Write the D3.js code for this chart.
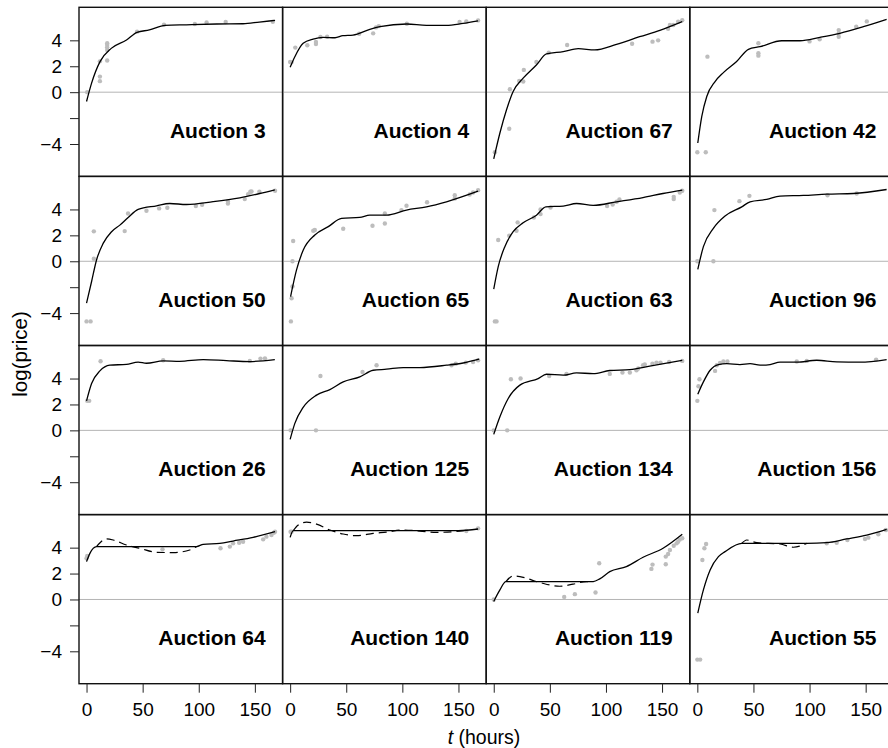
<!DOCTYPE html>
<html>
<head>
<meta charset="utf-8">
<script src="https://cdn.jsdelivr.net/npm/d3@7"></script>
<style>
  html, body { margin: 0; padding: 0; background: #fff; }
  svg { display: block; font-family: "Liberation Sans", Arial, Helvetica, sans-serif; }
</style>
</head>
<body>
<div id="chart"></div>
<script>
// Panel order (row by row)
const auctions = ["Auction 3", "Auction 4", "Auction 67", "Auction 42",
                  "Auction 50", "Auction 65", "Auction 63", "Auction 96",
                  "Auction 26", "Auction 125", "Auction 134", "Auction 156",
                  "Auction 64", "Auction 140", "Auction 119", "Auction 55"];

// Observed bids: [t (hours), log(price)]
const bids3   = [[0.6,0],[11.9,1.2],[11.9,0.85],[11.9,2.38],[18.4,3.77],[18.4,3.64],[18.4,3.46],[18.4,3.26],[18.4,2.44],[45,4.67],[69,5.2],[96.5,5.26],[107,5.38],[124,5.41],[166,5.44]];
const bids4   = [[0,2.33],[1.2,2.3],[4.6,3.44],[15.3,3.62],[23,3.72],[23,3.87],[27,4.26],[33,4.28],[61.5,4.51],[74,4.54],[76.5,5.0],[79,5.1],[104,5.28],[151,5.41],[157,5.46],[167.5,5.54]];
const bids67  = [[1,-4.64],[13.8,-2.82],[14.4,0.23],[22.7,0.87],[26.3,0.82],[26.8,1.72],[38,2.33],[49,3.05],[65.4,3.64],[123.3,3.74],[141.5,3.9],[146.5,4.0],[155.4,4.9],[157,5.18],[160,5.18],[164.3,5.44],[168,5.56]];
const bids42  = [[0,-4.64],[7.5,-4.64],[9,2.74],[54.4,3.77],[54.4,3.0],[54.4,2.82],[100,3.92],[109,4.08],[126,4.79],[126,4.54],[126,4.28],[141.6,5.05],[151,5.46]];
const bids50  = [[0,-4.64],[3.6,-4.64],[6.5,2.31],[6.5,0.2],[34,2.33],[37,3.69],[53.4,3.9],[64.7,4.08],[72,4.13],[97.4,4.26],[103,4.36],[126,4.46],[126,4.62],[141,4.8],[144,5.18],[146,5.36],[147,5.38],[154,5.36],[168,5.44]];
const bids65  = [[0.7,-4.64],[1.3,-2.85],[2.1,-1.95],[2.1,0],[2.7,1.56],[20.6,2.36],[22,2.41],[47.3,2.51],[73.4,2.74],[84.4,3.69],[84.4,2.92],[99.2,3.95],[103.7,4.28],[122,4.56],[146.7,5.1],[146.7,4.85],[160,5.15],[163,5.31],[167.5,5.49]];
const bids63  = [[1,-4.64],[2.5,-4.64],[4,1.64],[13.8,1.97],[20.3,2.36],[21.3,3.0],[35.8,3.38],[41.7,4.0],[41.7,3.64],[50.6,4.15],[101,4.26],[106,4.38],[109.5,4.59],[112,4.77],[160.4,4.97],[160.4,4.8],[165.8,5.31],[168,5.44]];
const bids96  = [[0,0],[14.3,0],[15.2,3.95],[37.5,4.64],[46.4,5.05],[116,5.1],[142,5.23]];
const bids26  = [[0.6,2.28],[2.4,2.28],[12.5,5.33],[68.3,5.41],[145.5,5.36],[155,5.54],[159,5.56]];
const bids125 = [[0.4,0],[23,0],[27,4.2],[64.5,4.51],[77,5.03],[143.8,5.03],[147.6,5.15],[156.5,5.23],[163,5.28],[167.5,5.41]];
const bids134 = [[0,0],[12,0],[15.3,3.95],[23.9,4.0],[49.4,4.2],[64.8,4.36],[103.4,4.36],[114.7,4.46],[121.3,4.46],[127.2,4.64],[128.7,4.77],[133.1,5.03],[134.6,5.08],[141.4,5.15],[145,5.23],[148.6,5.23],[156.3,5.28],[168,5.36]];
const bids156 = [[0,2.28],[1,3.41],[1.9,3.95],[15.8,4.59],[17.3,5.03],[20.2,5.2],[23.2,5.31],[26.8,5.31],[88.6,5.31],[97.5,5.36],[159.3,5.46]];
const bids64  = [[0,3.18],[0.6,3.36],[67.7,3.87],[119.4,3.95],[127.7,4.08],[130.6,4.33],[136,4.38],[139.5,4.46],[157.4,4.64],[160.3,4.85],[164.8,4.97],[166.9,5.15],[168,5.23]];
const bids140 = [[0.4,5.23],[1.3,5.23],[157,5.28],[167.5,5.49]];
const bids119 = [[0,0],[62.8,0.2],[72.3,0.41],[90.7,0.54],[94,2.79],[140.5,2.36],[141.5,2.69],[153.3,2.72],[153.3,3.31],[155.4,3.51],[157,3.82],[160.4,4.15],[163,4.33],[164.3,4.46],[165.8,4.62],[168,4.72]];
const bids55  = [[0,-4.64],[2.5,-4.64],[4.5,3.05],[6.3,3.95],[7.8,4.28],[115.3,4.33],[124.2,4.38],[133.7,4.59],[149.4,4.67],[152.4,4.77],[161.3,5.03],[168,5.36]];

// Fitted price curves: [t, log(price)]
const fit3   = [[0,-0.72],[4.5,0.7],[12,2.36],[22,3.38],[35.6,4.03],[45,4.62],[56,4.8],[70,5.15],[89,5.2],[116,5.26],[139.5,5.28],[154,5.41],[168,5.54]];
const fit4   = [[0,1.92],[4.2,2.74],[11.6,3.77],[20.5,4.1],[29.5,4.23],[40,4.2],[47,4.36],[56,4.41],[71,4.85],[80,5.05],[104,5.26],[121.5,5.15],[139,5.15],[154,5.31],[167.5,5.51]];
const fit67  = [[0,-5.15],[5.5,-3.15],[11.4,-1.36],[17.3,0.05],[26.2,1.08],[38,2.1],[47,2.95],[61.9,3.13],[75.3,3.36],[90,3.26],[109.4,3.69],[130,4.28],[148,4.77],[168,5.44]];
const fit42  = [[0.4,-3.92],[3.96,-1.87],[8.4,-0.33],[15.8,0.82],[23.2,1.51],[35,2.36],[45.5,3.31],[55.9,3.51],[75.2,3.97],[91.5,3.97],[109.3,4.23],[127,4.54],[148,5.05],[168.7,5.62]];
const fit50  = [[0,-3.23],[4.5,-1.56],[8.9,0.1],[14.8,1.38],[22.3,2.28],[29.7,2.79],[37.1,3.38],[46,4.0],[62.4,4.28],[74.2,4.46],[89,4.38],[112.8,4.6],[136.6,4.9],[154.4,5.23],[167.8,5.51]];
const fit65  = [[0.4,-2.72],[5.7,-0.67],[11.7,0.87],[22,2.03],[34,2.67],[45.8,3.31],[62,3.38],[71,3.56],[85.9,3.56],[103.7,3.95],[121.5,4.2],[139.3,4.59],[167.5,5.41]];
const fit63  = [[0,-2.15],[4,-0.41],[9.9,1.13],[17.3,2.28],[26.2,2.97],[38.1,3.56],[46.4,4.2],[61.9,4.26],[73.8,4.46],[88.6,4.31],[109.4,4.59],[133,4.92],[150.8,5.23],[168,5.49]];
const fit96  = [[0.4,-0.62],[5.4,1.13],[14.3,2.54],[24.7,3.49],[39.6,4.2],[47,4.59],[61.8,4.77],[73.7,5.03],[94.5,5.08],[115.3,5.18],[139,5.23],[168.7,5.54]];
const fit26  = [[0,2.28],[4.5,3.62],[11.9,4.59],[20.8,5.03],[35.6,5.1],[46,5.26],[53.4,5.18],[68.3,5.36],[83.1,5.33],[104,5.46],[124.7,5.38],[145.5,5.31],[167.8,5.46]];
const fit125 = [[0,-0.69],[4.2,0.54],[11.6,1.77],[23.5,2.72],[35.4,3.15],[47.3,3.74],[62.1,4.13],[74,4.64],[85.9,4.72],[100.8,4.85],[115.6,4.85],[139.4,5.03],[154.2,5.2],[168.4,5.49]];
const fit134 = [[0,-0.31],[5.5,1.05],[12.9,2.46],[23.3,3.49],[39.6,4.0],[47,4.33],[61.9,4.26],[73.8,4.44],[88.6,4.38],[103.4,4.62],[121.3,4.69],[139,4.95],[168,5.41]];
const fit156 = [[0.4,2.79],[5.4,3.74],[11.4,4.64],[18.8,5.08],[26.2,5.15],[38,5.08],[47,5.15],[55.9,5.03],[64.8,5.08],[73.7,5.26],[88.6,5.26],[106.4,5.41],[124.2,5.28],[145,5.26],[168.7,5.46]];
const fit64  = [[0,2.92],[3,3.56],[8.9,4.08],[98,4.08],[104,4.26],[118.8,4.33],[130.6,4.51],[148.5,4.79],[168,5.23]];
const fit140 = [[0,4.79],[2.8,5.31],[150,5.31],[167.5,5.44]];
const fit119 = [[0,-0.15],[5.5,0.74],[10.8,1.38],[88.6,1.38],[94.5,1.59],[103.4,2.15],[118.2,2.54],[133.1,3.26],[150.9,3.95],[168,5.03]];
const fit55  = [[0.4,-1.05],[5.4,0.74],[11.4,2.28],[18.8,3.31],[24.7,3.69],[39.6,4.33],[97.5,4.33],[115.3,4.38],[133.1,4.67],[150.9,4.97],[168.7,5.41]];

// Alternative (dashed) fits over the flat stretch
const alt64  = [[8.9,4.08],[17.8,4.67],[23.8,4.59],[35.6,4.2],[47.5,3.95],[62.4,3.64],[77.2,3.62],[92,3.82],[98,4.08]];
const alt140 = [[2.8,5.31],[7.2,5.74],[14.6,5.97],[23.5,5.82],[35.4,5.36],[47.3,5.05],[59.2,4.92],[74,5.1],[85.9,5.2],[100.8,5.36],[115.6,5.28],[130.4,5.18],[145.3,5.23],[155,5.31]];
const alt119 = [[10.8,1.38],[17.4,1.82],[23.3,1.77],[41,1.31],[58.8,1.02],[70.7,1.18],[82.6,1.38],[88.6,1.38]];
const alt55  = [[39.6,4.33],[44,4.59],[53,4.38],[73.7,4.28],[85.6,4.03],[97.5,4.33]];

const bidSets = [bids3, bids4, bids67, bids42, bids50, bids65, bids63, bids96,
                 bids26, bids125, bids134, bids156, bids64, bids140, bids119, bids55];
const fitSets = [fit3, fit4, fit67, fit42, fit50, fit65, fit63, fit96,
                 fit26, fit125, fit134, fit156, fit64, fit140, fit119, fit55];
const altSets = {12: alt64, 13: alt140, 14: alt119, 15: alt55};

const xTicks = [0, 50, 100, 150];
const yTicks = [-4, -2, 0, 2, 4];
const yTickLabels = ["\u22124", "", "0", "2", "4"];

// Layout
const W = 888, H = 748;
const gridLeft = 79, gridTop = 7.3;
const panelW = 203.6, panelH = 169.1;
const nCols = 4, nRows = 4;

const x = d3.scaleLinear().domain([-6.72, 174.72]).range([0, panelW]);
const y = d3.scaleLinear().domain([-6.5, 6.55]).range([panelH, 0]);

const svg = d3.select("#chart").append("svg")
  .attr("width", W).attr("height", H);

svg.append("defs").append("clipPath").attr("id", "panel-clip")
  .append("rect").attr("x", 0).attr("y", 0).attr("width", panelW).attr("height", panelH);

const line = d3.line()
  .x(d => x(d[0])).y(d => y(d[1]))
  .curve(d3.curveMonotoneX);

auctions.forEach((name, i) => {
  const col = i % nCols, row = Math.floor(i / nCols);
  const g = svg.append("g")
    .attr("transform", `translate(${gridLeft + col * panelW},${gridTop + row * panelH})`);
  const body = g.append("g").attr("clip-path", "url(#panel-clip)");

  body.append("line")
    .attr("x1", 0).attr("x2", panelW)
    .attr("y1", y(0)).attr("y2", y(0))
    .attr("stroke", "#b4b4b4").attr("stroke-width", 1);

  body.selectAll("circle").data(bidSets[i]).join("circle")
    .attr("cx", d => x(d[0])).attr("cy", d => y(d[1]))
    .attr("r", 2.2).attr("fill", "#bdbdbd");

  if (altSets[i]) {
    body.append("path").datum(altSets[i])
      .attr("d", line).attr("fill", "none")
      .attr("stroke", "#000").attr("stroke-width", 1.2)
      .attr("stroke-dasharray", "8,5");
  }

  body.append("path").datum(fitSets[i])
    .attr("d", line).attr("fill", "none")
    .attr("stroke", "#000").attr("stroke-width", 1.3);

  g.append("text")
    .attr("x", panelW - 17).attr("y", 130.4)
    .attr("text-anchor", "end")
    .attr("font-size", 21).attr("font-weight", "bold")
    .text(name);

  g.append("rect")
    .attr("x", 0).attr("y", 0).attr("width", panelW).attr("height", panelH)
    .attr("fill", "none").attr("stroke", "#111").attr("stroke-width", 1.4);
});

// Left axis on every row
for (let r = 0; r < nRows; r++) {
  const ax = svg.append("g")
    .attr("transform", `translate(${gridLeft},${gridTop + r * panelH})`)
    .call(d3.axisLeft(y).tickValues(yTicks)
      .tickFormat((d, k) => yTickLabels[k]).tickSize(9).tickPadding(8));
  ax.select(".domain").remove();
  ax.selectAll("line").attr("stroke", "#222");
  ax.selectAll("text").attr("font-size", 19).attr("fill", "#000")
    .attr("font-family", "'Liberation Sans', Arial, sans-serif");
}

// Bottom axis under every column
for (let c = 0; c < nCols; c++) {
  const ax = svg.append("g")
    .attr("transform", `translate(${gridLeft + c * panelW},${gridTop + nRows * panelH})`)
    .call(d3.axisBottom(x).tickValues(xTicks).tickSize(9).tickPadding(10));
  ax.select(".domain").remove();
  ax.selectAll("line").attr("stroke", "#222");
  ax.selectAll("text").attr("font-size", 19).attr("fill", "#000")
    .attr("font-family", "'Liberation Sans', Arial, sans-serif");
}

// Axis titles
const xt = svg.append("text")
  .attr("x", 484).attr("y", 744)
  .attr("text-anchor", "middle").attr("font-size", 19.5);
xt.append("tspan").attr("font-style", "italic").text("t");
xt.append("tspan").text(" (hours)");

svg.append("text")
  .attr("transform", "translate(26.5,354) rotate(-90)")
  .attr("text-anchor", "middle").attr("font-size", 20.5)
  .text("log(price)");
</script>
</body>
</html>
